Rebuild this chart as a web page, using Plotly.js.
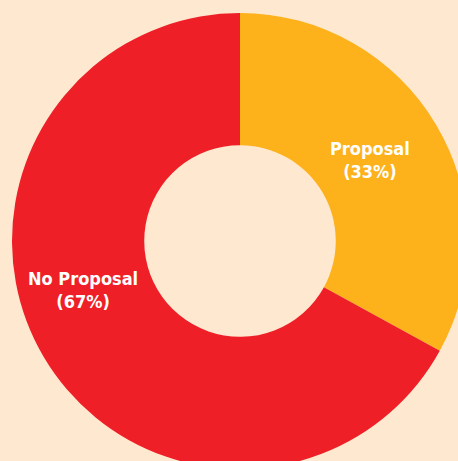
<!DOCTYPE html>
<html>
<head>
<meta charset="utf-8">
<script src="https://cdn.plot.ly/plotly-3.0.1.min.js"></script>
<style>
html,body{margin:0;padding:0;background:#FFE8D0;overflow:hidden;width:458px;height:461px;}
#chart{width:480px;height:482px;}
</style>
</head>
<body>
<div id="chart"></div>
<script>
const labels = ["Proposal", "No Proposal"];
const values = [33, 67];
const colors = ["#FDB11B", "#EE1F27"];

const W = 480, H = 482;
const cx = 240, cy = 241, R = 228;
const labelPos = [[370, 160], [83, 290]];

const annotations = labels.map((l, i) => ({
  x: labelPos[i][0] / W,
  y: 1 - labelPos[i][1] / H,
  xref: "paper", yref: "paper",
  xanchor: "center", yanchor: "middle",
  showarrow: false,
  align: "center",
  text: "<b>" + l + "<br>(" + values[i] + "%)</b>",
  font: {family: "'Liberation Sans Narrow', 'DejaVu Sans Condensed', 'Roboto Condensed', Arial, sans-serif", size: 18, color: "#FFFFFF"}
}));

Plotly.newPlot("chart", [{
  type: "pie",
  labels: labels,
  values: values,
  marker: {colors: colors, line: {width: 0}},
  hole: 0.42,
  sort: false,
  direction: "clockwise",
  rotation: 0,
  textinfo: "none",
  hoverinfo: "label+percent",
  domain: {x: [(cx - R) / W, (cx + R) / W], y: [(H - cy - R) / H, (H - cy + R) / H]}
}], {
  width: W, height: H,
  margin: {l: 0, r: 0, t: 0, b: 0},
  paper_bgcolor: "#FFE8D0",
  plot_bgcolor: "#FFE8D0",
  showlegend: false,
  annotations: annotations
}, {displayModeBar: false, staticPlot: true});
</script>
</body>
</html>
